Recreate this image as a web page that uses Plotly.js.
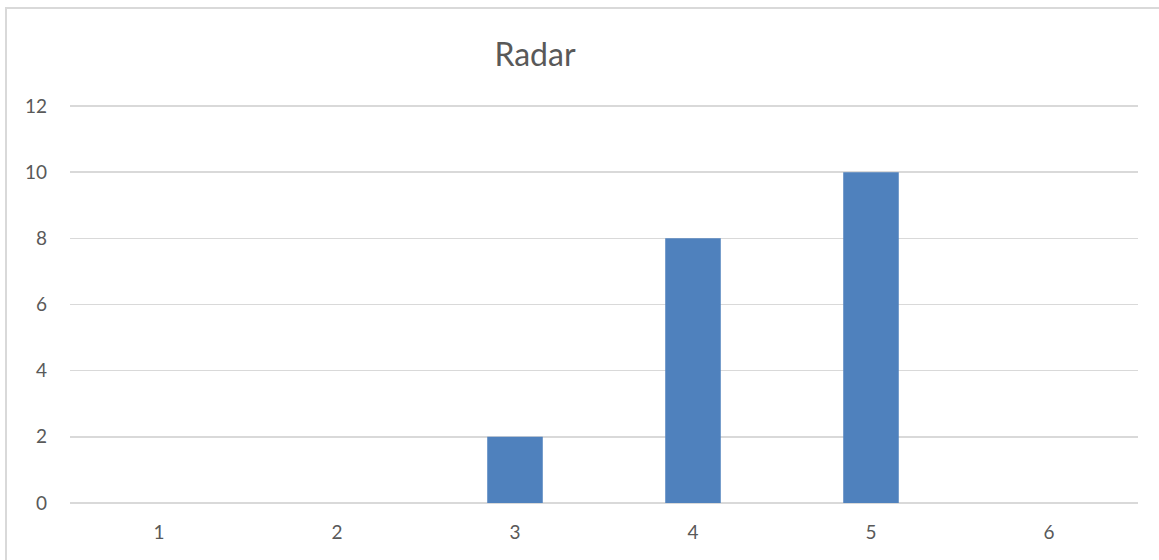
<!DOCTYPE html>
<html>
<head>
<meta charset="utf-8">
<script src="https://cdn.plot.ly/plotly-3.0.1.min.js"></script>
<style>
  html, body { margin: 0; padding: 0; background: #ffffff; }
  #chart { width: 1159px; height: 560px; }
</style>
</head>
<body>
<div id="chart"></div>
<script>
// Category labels along the x axis and the bar heights for each one
const categories = ['1', '2', '3', '4', '5', '6'];
const values = [0, 0, 2, 8, 10, 0];
const yTicks = [0, 2, 4, 6, 8, 10, 12];
const chartTitle = 'Radar';

const textColor = '#595959';
const gridColor = '#d9d9d9';
const barColor = '#4f81bd';
const fontFamily = 'Lato, "Open Sans", sans-serif';

const W = 1159, H = 560;
const margin = { l: 70, r: 21, t: 104, b: 57 };
const plotW = W - margin.l - margin.r;
const plotH = H - margin.t - margin.b;

// convert page pixels to paper coordinates for the outer frame
const px = x => (x - margin.l) / plotW;
const py = y => (H - margin.b - y) / plotH;

const trace = {
  type: 'bar',
  x: categories,
  y: values,
  marker: { color: barColor, line: { width: 0 } },
  hoverinfo: 'x+y'
};

const layout = {
  width: W,
  height: H,
  margin: margin,
  paper_bgcolor: '#ffffff',
  plot_bgcolor: '#ffffff',
  showlegend: false,
  bargap: 0.688,
  font: { family: fontFamily, color: textColor, size: 19 },
  title: {
    text: chartTitle,
    font: { family: fontFamily, size: 32, color: textColor },
    x: 535 / W,
    xanchor: 'center',
    y: 1 - 55 / H,
    yanchor: 'middle',
    xref: 'container',
    yref: 'container'
  },
  xaxis: {
    type: 'category',
    showgrid: false,
    zeroline: false,
    showline: false,
    ticks: '',
    tickfont: { family: fontFamily, size: 19, color: textColor },
    ticklabelstandoff: 16,
    fixedrange: true
  },
  yaxis: {
    // a little headroom above 12 keeps the top gridline inside the plot area
    range: [0, 12.06],
    tickvals: yTicks,
    ticktext: yTicks.map(String),
    showgrid: true,
    gridcolor: gridColor,
    gridwidth: 1.5,
    zeroline: true,
    zerolinecolor: gridColor,
    zerolinewidth: 1.5,
    showline: false,
    ticks: '',
    tickfont: { family: fontFamily, size: 19, color: textColor },
    ticklabelstandoff: 22,
    fixedrange: true
  },
  shapes: [
    {
      type: 'rect',
      xref: 'paper', yref: 'paper',
      x0: px(6), x1: px(1170),
      y0: py(570), y1: py(8),
      line: { color: gridColor, width: 2 },
      fillcolor: 'rgba(0,0,0,0)',
      layer: 'below'
    }
  ]
};

Plotly.newPlot('chart', [trace], layout, { displayModeBar: false, staticPlot: true });
</script>
</body>
</html>
